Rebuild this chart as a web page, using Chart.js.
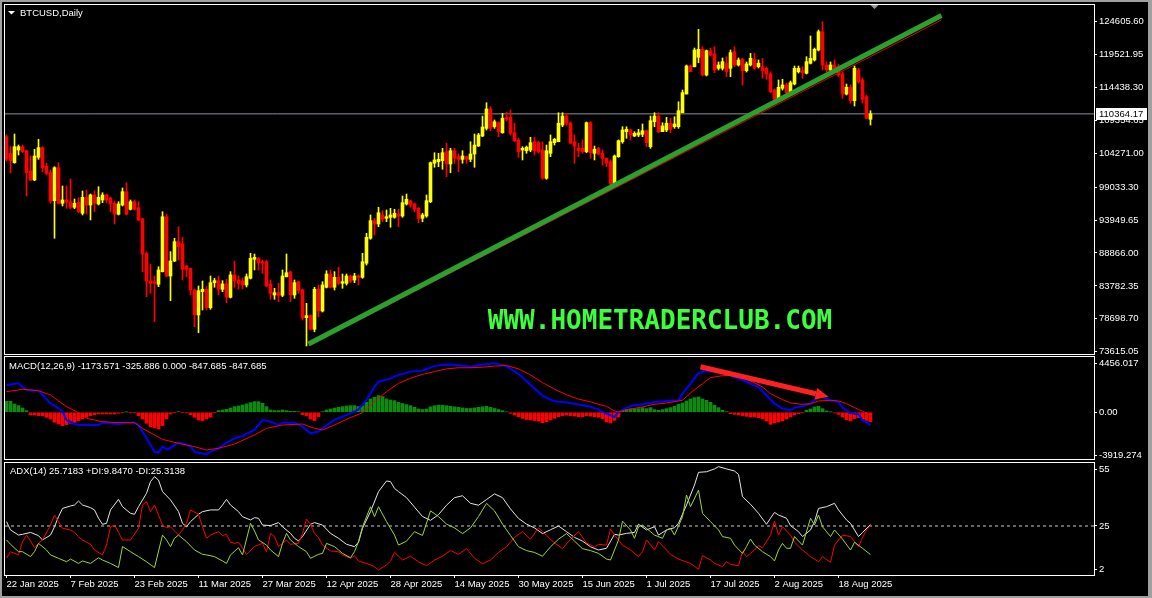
<!DOCTYPE html>
<html>
<head>
<meta charset="utf-8">
<title>BTCUSD Daily</title>
<script src="https://cdn.jsdelivr.net/npm/chart.js@4.4.1/dist/chart.umd.min.js"></script>
<style>
  html, body { margin: 0; padding: 0; background: #000; }
  #wrap { position: relative; width: 1152px; height: 598px; background: #000; overflow: hidden; }
  #edge { position: absolute; left: 0; top: 0; width: 1152px; height: 598px; box-sizing: border-box;
          border-left: 2px solid #a0a0a0; border-top: 2px solid #a0a0a0;
          border-right: 4px solid #a0a0a0; border-bottom: 2px solid #a0a0a0; pointer-events: none; }
  canvas { position: absolute; left: 0; }
</style>
</head>
<body>
<div id="wrap">
  <canvas id="price" width="1152" height="360" style="top:0"></canvas>
  <canvas id="macd" width="1152" height="116" style="top:350px"></canvas>
  <canvas id="adx" width="1152" height="142" style="top:456px"></canvas>
  <div id="edge"></div>
</div>
<script>
// daily candles, 22 Jan 2025 .. 26 Aug 2025 (bar index 0..216)
const opens = [106840,104270,102820,104780,105290,104670,101540,100150,103650,105140,
  102310,101270,96950,102050,96550,97060,96790,95930,96700,95000,
  97470,96280,97830,96440,97060,97830,97360,96550,94850,96280,
  98340,95620,96790,95870,94120,88820,84540,84430,84030,85980,
  94470,85310,87630,90610,90260,86860,86500,83150,79290,82890,
  83260,80410,84280,84590,83260,84080,82020,85470,84690,84540,
  83920,84960,87890,88050,87520,87520,84080,82380,82730,82330,
  85200,85930,82380,84430,83150,78870,79180,77080,83260,79900,
  83570,85620,83570,85110,84180,84180,85310,84690,85310,85110,
  87280,91140,93860,93350,94740,94230,94380,94380,94890,94580,
  96440,96950,96440,95770,94230,94580,96790,102730,102970,103130,
  104520,102620,104670,103750,103340,103750,103340,104160,105400,106940,
  108130,111120,108380,109000,107450,109830,109830,107450,106330,104780,
  104670,104780,106060,105910,104780,100410,104270,105910,106060,108640,
  110030,108910,106060,105040,105040,104520,109000,104270,105040,104270,
  103500,102970,99530,103750,106060,107610,107870,106940,107100,107210,
  107760,105290,109150,110030,107610,107870,108910,108380,108380,110540,
  113430,117760,117650,119110,120340,116370,120080,119620,117410,117410,
  118180,117410,119970,117920,118800,117040,117920,118800,117650,117650,
  117410,116530,114050,112620,114320,114830,113640,114980,116880,117040,
  116630,118180,118690,120230,123060,117920,117140,117920,117650,116530,
  113430,114470,112400,117140,115600,113020,109530];
const highs = [107100,105290,107250,105550,105550,104780,103850,104890,106430,105290,
  102730,101690,102200,102820,99220,99220,100300,97210,97410,98450,
  98600,97980,98490,99110,98180,97980,97520,96900,96790,98910,
  99730,97060,97060,96790,94270,89020,87120,85310,86750,95250,
  94890,89070,91140,92930,91290,87010,86550,83300,83770,84540,
  83660,85310,84960,85310,84590,84800,85980,87630,85310,85000,
  85620,88820,88710,88170,87780,87780,84690,83410,84180,86240,
  88710,86080,84690,84540,83300,81090,79290,83570,83920,84430,
  86130,86240,85980,86660,85620,85620,85470,85730,85470,88820,
  91910,94740,94230,95930,95400,95510,95770,95620,95620,97670,
  97980,97060,96590,95900,95000,97830,102930,104360,104270,105040,
  105820,105040,105040,104160,104670,103850,106060,107250,107360,110030,
  112090,111470,109420,109150,110450,110650,110960,108910,106590,105290,
  105400,106740,106740,106170,106060,105550,107100,106590,110540,110540,
  110450,109150,107100,105820,106330,109110,109150,105400,105200,104780,
  103550,103240,104010,106330,108380,108380,108030,107610,107980,108800,
  107870,110030,110540,110540,109000,109830,109680,109930,112240,114050,
  117920,117920,120540,123430,120740,120230,120540,120740,118380,119000,
  119200,120230,120740,119000,118950,118380,119720,119720,118690,118950,
  117610,116830,114210,115600,115710,115130,115440,117760,117760,117650,
  119200,122400,120540,123320,124610,118380,118380,118690,118070,116830,
  114980,114830,117760,117450,115910,113280,110850];
const lows = [103080,101230,102730,104010,104360,97670,100040,100040,103340,101430,
  100920,96550,91140,96440,96130,95770,95660,95710,95090,94740,
  94890,93970,95250,96280,96640,96640,95250,93350,94740,96130,
  94740,95510,95510,93860,85980,82110,82640,78250,83660,85930,
  85200,81500,87520,87780,84690,85200,82380,77480,76550,80060,
  80060,80170,83570,82380,82890,81190,81910,83570,83260,83300,
  83610,84850,86240,86240,85730,83660,81710,81710,81340,82110,
  85160,81340,81870,82640,78510,74500,76970,76700,79020,79750,
  83460,83460,83150,83920,83410,83920,84280,84280,83920,84960,
  87010,90980,91650,92930,93700,93700,92840,94230,92930,94380,
  96280,95930,95250,93550,93700,94380,96640,102110,102200,101800,
  100660,101270,102730,101430,102730,102730,102970,102110,105320,106840,
  107870,107760,108130,106840,107360,109260,107100,106060,103650,103240,
  104270,104520,104010,104320,100250,100250,103750,105550,106060,108380,
  108640,105820,102730,103750,104270,104360,103500,103240,104010,102460,
  102200,99370,99370,103650,105820,106590,106330,106840,106840,106840,
  105290,105040,108380,107450,107610,107610,107450,108130,108130,110540,
  113430,116880,117610,118270,116220,116220,119310,116730,117140,117140,
  116110,116110,117650,117760,114830,116830,117760,117250,117450,115860,
  115710,113640,112510,112510,114050,113430,113540,114830,116680,115860,
  116530,118070,118530,120080,117140,116830,116830,117140,116060,112770,
  113280,112000,111580,115130,112000,109570,108640];
const closes = [103340,103130,105290,105290,104520,101270,100150,103850,105140,102050,
  101180,96900,102050,96550,97060,96750,95930,96550,95250,97470,
  96280,97830,96550,97470,97830,97060,96440,94890,96440,98340,
  94850,96790,95620,93970,88710,84540,84180,84180,86240,94470,
  85310,87630,90610,89840,86350,86350,83150,79290,83040,83260,
  80410,84280,84590,83260,84080,82020,85470,84590,84180,83920,
  85200,88050,88200,87370,87280,83770,82640,82730,82330,85310,
  85820,82380,84280,83040,78780,79180,77080,83260,79900,83920,
  85620,83570,85110,84180,84430,85310,84490,85310,85110,87520,
  91290,93860,93350,95090,94070,94470,94740,95000,94580,96640,
  97160,96280,95620,94230,94740,96950,102820,103240,103340,104360,
  102620,104670,103500,103340,103850,103340,104160,105550,107100,108330,
  111120,108130,109150,107610,109680,109530,107360,106220,104520,105040,
  105200,105910,104670,104520,100410,104670,106060,106430,108910,110030,
  108910,105820,105400,104670,104520,109000,104360,104890,104160,103500,
  102730,99530,103850,106220,107870,107980,107100,107360,107450,107760,
  105910,109310,110030,107610,108490,108910,107980,108800,110850,113640,
  117760,116880,120230,120340,116370,120130,119460,117140,117920,118430,
  116880,119820,117920,118690,117040,118070,118950,117410,118180,117040,
  116530,113790,112620,114470,114830,113640,115180,117410,117410,116730,
  118430,118950,120340,123060,117920,117140,117920,117410,116370,113430,
  114470,112400,117410,115340,112620,109680,110364.17];

// hand-drawn trend lines (bar index, price)
const trendIdx = [75.5, 233.75];
const trendVal = [74800, 125560];
const trend2Idx = [75.5, 233.75];
const trend2Val = [74500, 124870];

// MACD(12,26,9): main line, signal line (sampled bars), histogram (every bar)
const macdIdx = [0,3,5,8,9,11,13,14,15,17,18,23,24,28,30,32,33,34,35,36,37,38,39,40,41,42,43,44,46,47,48,50,51,53,55,57,59,62,64,66,68,69,72,74,76,78,79,82,84,86,88,90,92,93,96,98,
  101,104,107,110,113,116,119,122,125,128,131,134,137,140,143,146,
  148,150,152,153,155,157,159,162,165,168,169,171,173,175,178,180,183,185,188,190,192,194,196,197,199,201,203,204,206,208,209,211,213,214,216];
const macdVal = [2482,2634,2028,1967,1573,815,361,58,-700,-1064,-1155,-1155,-943,-1064,-943,-943,-1155,-1761,-2367,-2974,-3580,-3671,-3125,-3367,-3276,-2973,-2761,-2822,-3125,-3580,-3671,-3822,-3580,-3276,-2761,-2367,-2155,-1609,-700,-852,-1155,-943,-943,-1306,-1912,-1761,-1458,-700,-397,-94,270,1118,2330,2785,3088,3391,
  3700,3800,4200,4350,4300,4150,4350,4450,4200,3500,2500,1500,1000,900,700,500,
  242,-121,-424,30,424,636,727,939,1030,1091,1697,2606,3575,3757,3666,3515,3060,2757,2303,1545,788,333,182,424,545,788,1394,1394,1091,939,424,-61,-182,-727,-1174];
const signalIdx = [0,4,8,11,15,18,20,24,28,32,34,37,39,43,47,50,53,57,62,65,69,74,77,79,82,85,89,92,95,98,
  101,104,107,110,113,116,119,122,125,128,131,134,137,140,143,146,
  148,150,152,153,155,159,162,165,169,171,174,176,179,181,184,186,189,191,194,196,199,201,203,206,208,210,212,215,216];
const signalVal = [1876,2088,1967,1573,512,-33,-548,-852,-943,-943,-1458,-2064,-2458,-2822,-3125,-3428,-3276,-2882,-2064,-1458,-1155,-1064,-1458,-1609,-1155,-640,-33,967,1876,2634,
  3100,3450,3700,3950,4050,4050,4100,4200,4250,3950,3400,2700,2100,1600,1200,950,
  727,545,121,30,242,485,727,848,1091,1757,2606,3151,3333,3363,3151,2848,2303,1697,1151,848,727,788,1030,1091,1030,788,424,-61,-326];
const histVal = [1000,1000,758,606,394,152,-242,-242,-303,-303,
  -455,-606,-909,-1061,-1212,-1121,-1000,-909,-758,-606,
  -455,-303,-212,-152,-152,-152,-152,-152,-91,-30,
  30,-30,-30,-303,-606,-1000,-1303,-1424,-1515,-1212,
  -606,-152,-30,61,-30,-30,-212,-455,-697,-758,
  -606,-455,-30,152,212,273,394,515,576,667,
  758,879,970,970,818,515,212,152,152,212,
  152,91,91,61,-212,-303,-606,-758,-394,61,
  212,303,394,455,515,576,606,606,515,606,
  909,1212,1364,1515,1424,1212,1121,1061,909,800,
  700,600,450,300,250,300,500,600,650,650,
  600,550,500,450,400,350,350,400,450,500,
  550,450,350,250,150,50,-100,-250,-400,-550,
  -650,-700,-750,-800,-950,-850,-700,-550,-400,-300,
  -250,-300,-350,-400,-400,-300,-350,-400,-450,-576,
  -880,-970,-727,-424,182,242,303,333,333,424,
  333,424,242,182,242,333,424,545,727,848,
  1030,1212,1333,1394,1212,1091,909,636,424,182,
  61,-121,-182,-242,-303,-364,-424,-424,-485,-606,
  -788,-1091,-970,-879,-788,-606,-424,-242,-121,-30,
  182,303,485,545,333,121,30,-61,-182,-424,
  -667,-788,-576,-485,-606,-727,-848];
const arrowIdx = [173.5, 205.5];
const arrowVal = [4147, 1419];

// ADX(14): main, +DI, -DI (sampled bars)
const adxIdx = [0,1,3,4,6,8,9,11,12,13,14,16,17,18,19,21,22,23,24,25,26,28,29,31,32,33,35,36,37,38,39,41,43,44,45,46,48,49,51,53,54,55,56,58,59,61,62,63,64,66,68,69,71,72,73,74,76,77,79,81,83,85,87,88,89,91,93,95,96,97,98,
  100,102,104,106,108,110,112,114,116,118,120,122,124,126,128,130,132,134,136,138,140,142,144,146,
  148,150,152,153,155,157,158,160,162,163,165,167,168,170,172,173,175,177,178,180,182,183,184,186,188,190,191,192,193,195,196,198,199,201,202,203,205,207,208,210,211,213,214,216];
const adxVal = [27.3,22.9,20.2,20.6,21.6,19.9,17.6,20.2,24.6,29.9,34.3,35.6,36.1,38.2,36.1,34.7,33.5,29.1,25.9,26.4,33.5,39.1,35.2,31.7,31.2,35.2,42.3,48.5,51.1,49.3,43.2,38.8,32.6,26.4,24.6,27.3,31.2,32.6,33.5,33.5,36.1,39.1,36.1,32.6,29.9,28.2,29.4,29.1,25.5,25.2,26.8,24.6,21.1,18.5,17.1,19.4,25.9,26.8,25.5,21.1,18.5,15.3,14.1,16.4,23.8,32.6,43.2,48.8,48.5,44.9,43.2,
  40,35,30,28,31,36,40,41,37,36,39,42,40,34,29,26,24,21,23,25,22,19,17,14,
  12.3,13.2,20.6,20.2,21.1,21.6,25.9,22.9,24.6,20.2,22.9,24.1,26.4,36.1,46.7,53.4,53.7,55.2,56.4,55.2,54.1,52.3,40.5,36.5,31.7,25.9,29.1,32.2,30.8,29.1,25.2,22,19.4,22.9,27.3,34.3,35.2,37,33.5,28.2,26.4,19.4,21.6,25.7];
const pdiIdx = [0,1,3,4,6,7,8,10,11,13,15,16,18,19,21,23,24,26,28,29,31,33,35,37,39,40,41,42,43,45,47,49,50,52,54,55,56,58,59,61,62,63,65,66,68,69,70,71,73,75,76,78,79,80,82,83,84,86,87,88,89,91,92,93,95,97,98,
  100,102,104,106,108,110,112,114,116,118,120,122,124,126,128,130,132,134,136,138,140,142,144,146,
  148,150,151,153,154,156,157,158,159,161,162,164,165,166,167,169,170,171,173,174,176,178,179,181,182,184,185,186,187,189,191,192,193,194,195,196,197,198,199,201,202,203,204,206,207,209,211,212,214,216];
const pdiVal = [17.6,15.3,11.4,11.4,8.8,11.4,15.8,12.3,9.7,7.9,6.1,7.5,5.2,6.5,5.2,8.2,7,5.2,3,14.1,11.4,8.8,6.1,3,20.2,17.6,14.1,18.5,20.2,16.7,12.3,10,9.7,8.8,6.5,5.2,9.7,13.5,9.7,26.4,22.4,17.6,14.9,12.3,8.8,15.8,21.1,17.6,14.1,11.4,7.9,10,10.5,15.8,14.1,12.3,10.5,8.2,11.4,16.7,24.6,35.2,29.9,35.2,27.3,20.2,14.9,
  17,22,20,33,30,26,24,21,24,30,37,33,26,20,14,12,11,9,14,18,21,17,13,12,
  10.5,7.5,7,17.6,27.6,22.9,18.5,24.6,25.5,22,20.2,18.5,22.9,23.8,20.2,29.9,41.4,35.2,44,31.7,27.3,22.9,19.4,18.5,14.9,10.5,14.1,18.1,14.9,11.4,8.8,6.5,12.3,15.8,13.2,13.2,19.4,17.1,14.9,29.1,25.5,30.8,24.6,19.4,22.9,18.1,12.3,16.4,13.2,9.85];
const mdiIdx = [0,1,3,4,5,6,7,8,9,11,12,13,14,16,17,18,19,21,22,24,25,26,27,28,29,31,33,34,35,36,37,38,39,40,41,43,44,45,46,48,49,50,51,53,54,55,56,57,58,59,60,62,64,65,66,67,68,70,71,73,74,75,76,77,78,79,81,83,84,86,87,88,90,92,93,95,96,97,
  99,101,103,105,107,109,111,113,115,117,119,121,123,125,127,129,131,133,135,137,139,141,143,145,147,
  148,150,151,152,154,156,158,159,160,162,163,165,166,168,171,173,174,176,177,179,180,181,183,184,185,186,187,188,189,191,192,193,194,196,197,199,201,203,204,206,207,209,211,213,214,215,216];
const mdiVal = [7.9,11.4,9.7,16.7,20.2,17.1,13.5,15.8,17.6,25.5,30.8,27.3,23.8,22.9,21.6,19.4,17.6,15.3,12.3,9.7,14.9,24.6,25.5,21.6,17.6,17.6,23.8,36.1,37.9,32.6,36.1,30.8,25.5,24.1,24.6,20.2,22.9,26.4,33.5,31.2,24.6,18.5,20.2,22,19.9,20.6,16.4,15.8,16.4,13.2,10,14.1,15.8,11.4,21.1,19.4,14.1,17.6,15.3,15.8,21.1,28.7,25.9,21.1,18.8,14.9,11.8,11.4,9.7,7.9,9.3,6.5,5.2,3.5,1.7,4.4,6.5,11.1,
  7,9,6,4,7,9,12,10,13,8,5,7,11,14,19,22,18,24,20,16,13,18,22,16,14,
  15.3,14.9,23.4,20.2,14.9,12.3,8.8,11.4,17.6,12.3,16.7,12.3,10,7.5,5.2,2.1,9.3,7,5.2,3.5,6.1,4.7,4,11.4,8.8,10.5,12.3,14.6,13.5,20.2,27.6,20.2,24.6,20.2,16.4,12.3,8.8,6.1,8.8,5.8,14.9,20.2,19.4,14.1,18.8,22.9,25.3];

// axes
const priceTicks = [124605.60,119521.95,114438.30,109354.65,104271.00,99033.30,93949.65,88866.00,83782.35,78698.70,73615.05];
const priceTickLabels = priceTicks.map(v => v.toFixed(2));
const macdTicks = [4456.017, 0, -3919.274];
const macdTickLabels = ['4456.017', '0.00', '-3919.274'];
const adxTicks = [55, 25, 2];
const adxTickLabels = ['55', '25', '2'];
const adxLevel = 25;
const dateTickIdx = [0,16,32,48,64,80,96,112,128,144,160,176,192,208];
const dateLabels = ['22 Jan 2025','7 Feb 2025','23 Feb 2025','11 Mar 2025','27 Mar 2025','12 Apr 2025','28 Apr 2025',
  '14 May 2025','30 May 2025','15 Jun 2025','1 Jul 2025','17 Jul 2025','2 Aug 2025','18 Aug 2025'];
const symbolTitle = 'BTCUSD,Daily';
const macdTitle = 'MACD(12,26,9) -1173.571 -325.886 0.000 -847.685 -847.685';
const adxTitle = 'ADX(14) 25.7183 +DI:9.8470 -DI:25.3138';
const watermark = 'WWW.HOMETRADERCLUB.COM';

const X_MIN = -0.375, X_MAX = 271.875;
const FONT = "'Liberation Sans', Arial, sans-serif";
const FSIZE = 9.5;
const BULL = '#ffff00', BEAR = '#ff0000';

const pts = (xs, ys) => xs.map((x, i) => ({ x, y: ys[i] }));

function yAxis(min, max, ticks, labels) {
  return {
    position: 'right', min, max, beginAtZero: false,
    afterFit: s => { s.width = 58; s.paddingTop = 0; s.paddingBottom = 0; },
    afterBuildTicks: s => { s.ticks = ticks.map(v => ({ value: v })); },
    border: { display: true, color: '#ffffff' },
    grid: { drawOnChartArea: false, drawTicks: true, tickLength: 3, color: '#ffffff' },
    ticks: { color: '#ffffff', font: { family: FONT, size: FSIZE }, padding: 2, autoSkip: false,
             callback: (v, i) => labels[i] }
  };
}
const hiddenX = { type: 'linear', min: X_MIN, max: X_MAX, offset: false, display: false };

const framePlugin = {
  id: 'frame',
  afterDraw(chart) {
    const { ctx, chartArea: a } = chart;
    ctx.save();
    ctx.strokeStyle = '#ffffff';
    ctx.lineWidth = 1;
    ctx.strokeRect(a.left - 0.5, a.top - 0.5, a.right - a.left + 1, a.bottom - a.top + 1);
    ctx.restore();
  }
};

function baseOptions(padding, scales) {
  return {
    responsive: false, animation: false, devicePixelRatio: 1, events: [],
    layout: { padding },
    plugins: { legend: { display: false }, tooltip: { enabled: false } },
    scales
  };
}

// ---------- price panel ----------
const candleColors = closes.map((c, i) => c >= opens[i] ? BULL : BEAR);
const lastClose = closes[closes.length - 1];

new Chart(document.getElementById('price'), {
  type: 'bar',
  data: {
    datasets: [
      { type: 'line', data: pts(trendIdx, trendVal), borderColor: '#2ca02c', borderWidth: 5, pointRadius: 0, order: 0 },
      { type: 'line', data: pts(trend2Idx, trend2Val), borderColor: '#e00000', borderWidth: 1, pointRadius: 0, order: 0 },
      { data: opens.map((o, i) => ({ x: i, y: [o, closes[i]] })), backgroundColor: candleColors,
        barThickness: 3, minBarLength: 1, grouped: false, borderWidth: 0, order: 1 },
      { data: lows.map((l, i) => ({ x: i, y: [l, highs[i]] })), backgroundColor: candleColors,
        barThickness: 1, grouped: false, borderWidth: 0, order: 2 },
      { type: 'line', data: [{ x: X_MIN, y: lastClose }, { x: X_MAX, y: lastClose }],
        borderColor: '#8a8f99', borderWidth: 1, pointRadius: 0, order: 3 }
    ]
  },
  options: baseOptions({ left: 5, top: 5, right: 0, bottom: 6 }, {
    x: hiddenX,
    y: yAxis(73259, 127186, priceTicks, priceTickLabels)
  }),
  plugins: [framePlugin, {
    id: 'priceDecor',
    beforeDatasetsDraw(chart) {
      const ctx = chart.ctx;
      ctx.save();
      ctx.font = "bold 26px 'DejaVu Sans Mono', 'Liberation Mono', monospace";
      ctx.fillStyle = '#3cff3c';
      ctx.textAlign = 'center';
      ctx.textBaseline = 'middle';
      ctx.fillText(watermark, 660, 322);
      ctx.restore();
    },
    afterDraw(chart) {
      const { ctx, scales: { x, y }, chartArea: a } = chart;
      ctx.save();
      ctx.font = FSIZE + 'px ' + FONT;
      ctx.textBaseline = 'middle';
      ctx.fillStyle = '#ffffff';
      ctx.beginPath();
      ctx.moveTo(a.left + 3, a.top + 6); ctx.lineTo(a.left + 10, a.top + 6); ctx.lineTo(a.left + 6.5, a.top + 9.5);
      ctx.closePath(); ctx.fill();
      ctx.fillText(symbolTitle, a.left + 15, a.top + 8);
      // shift marker
      const sx = x.getPixelForValue(closes.length);
      ctx.fillStyle = '#9a9a9a';
      ctx.beginPath();
      ctx.moveTo(sx - 4, a.top); ctx.lineTo(sx + 4, a.top); ctx.lineTo(sx, a.top + 4);
      ctx.closePath(); ctx.fill();
      // current price label
      const py = Math.round(y.getPixelForValue(lastClose));
      ctx.fillStyle = '#ffffff';
      ctx.fillRect(a.right + 2, py - 6, 51, 12);
      ctx.fillStyle = '#000000';
      ctx.fillText(lastClose.toFixed(2), a.right + 5, py + 0.5);
      ctx.restore();
    }
  }]
});

// ---------- MACD panel ----------
new Chart(document.getElementById('macd'), {
  type: 'bar',
  data: {
    datasets: [
      { type: 'line', data: pts(signalIdx, signalVal), borderColor: '#ff0000', borderWidth: 1, pointRadius: 0, order: 0 },
      { type: 'line', data: pts(macdIdx, macdVal), borderColor: '#0000ff', borderWidth: 2, pointRadius: 0, order: 1 },
      { data: histVal.map((v, i) => ({ x: i, y: v })), backgroundColor: histVal.map(v => v >= 0 ? '#0c8c0c' : '#ff0000'),
        barThickness: 3, grouped: false, borderWidth: 0, order: 2 }
    ]
  },
  options: baseOptions({ left: 5, top: 7, right: 0, bottom: 7 }, {
    x: hiddenX,
    y: yAxis(-4247, 5029, macdTicks, macdTickLabels)
  }),
  plugins: [framePlugin, {
    id: 'macdDecor',
    afterDatasetsDraw(chart) {
      const { ctx, scales: { x, y } } = chart;
      const x0 = x.getPixelForValue(arrowIdx[0]), y0 = y.getPixelForValue(arrowVal[0]);
      const x1 = x.getPixelForValue(arrowIdx[1]), y1 = y.getPixelForValue(arrowVal[1]);
      const ang = Math.atan2(y1 - y0, x1 - x0);
      const head = 13, half = 6;
      const bx = x1 - head * Math.cos(ang), by = y1 - head * Math.sin(ang);
      ctx.save();
      ctx.strokeStyle = ctx.fillStyle = '#ff2020';
      ctx.lineWidth = 5;
      ctx.beginPath(); ctx.moveTo(x0, y0); ctx.lineTo(bx, by); ctx.stroke();
      ctx.beginPath();
      ctx.moveTo(x1, y1);
      ctx.lineTo(bx + half * Math.sin(ang), by - half * Math.cos(ang));
      ctx.lineTo(bx - half * Math.sin(ang), by + half * Math.cos(ang));
      ctx.closePath(); ctx.fill();
      ctx.restore();
    },
    afterDraw(chart) {
      const { ctx, chartArea: a } = chart;
      ctx.save();
      ctx.font = FSIZE + 'px ' + FONT;
      ctx.textBaseline = 'middle';
      ctx.fillStyle = '#ffffff';
      ctx.fillText(macdTitle, a.left + 4, a.top + 9);
      ctx.restore();
    }
  }]
});

// ---------- ADX panel ----------
new Chart(document.getElementById('adx'), {
  type: 'line',
  data: {
    datasets: [
      { data: pts(pdiIdx, pdiVal), borderColor: '#9ad832', borderWidth: 1, pointRadius: 0, order: 0 },
      { data: pts(mdiIdx, mdiVal), borderColor: '#ff0000', borderWidth: 1, pointRadius: 0, order: 1 },
      { data: pts(adxIdx, adxVal), borderColor: '#e6e6e6', borderWidth: 1, pointRadius: 0, order: 2 },
      { data: [{ x: X_MIN, y: adxLevel }, { x: X_MAX, y: adxLevel }], borderColor: '#c8c8c8', borderWidth: 1,
        borderDash: [3, 3], pointRadius: 0, order: 3 }
    ]
  },
  options: baseOptions({ left: 5, top: 7, right: 0, bottom: 0 }, {
    x: {
      type: 'linear', min: X_MIN, max: X_MAX, offset: false,
      afterFit: s => { s.height = 23; s.paddingLeft = 0; s.paddingRight = 0; },
      afterBuildTicks: s => { s.ticks = dateTickIdx.map(v => ({ value: v })); },
      border: { display: true, color: '#ffffff' },
      grid: { drawOnChartArea: false, drawTicks: true, tickLength: 3, color: '#ffffff' },
      ticks: { color: '#ffffff', font: { family: FONT, size: FSIZE }, align: 'start', maxRotation: 0, minRotation: 0,
               autoSkip: false, padding: 1, callback: (v, i) => dateLabels[i] }
    },
    y: yAxis(-0.93, 58.33, adxTicks, adxTickLabels)
  }),
  plugins: [framePlugin, {
    id: 'adxDecor',
    afterDraw(chart) {
      const { ctx, chartArea: a } = chart;
      ctx.save();
      ctx.font = FSIZE + 'px ' + FONT;
      ctx.textBaseline = 'middle';
      ctx.fillStyle = '#ffffff';
      ctx.fillText(adxTitle, a.left + 5, a.top + 8);
      ctx.restore();
    }
  }]
});
</script>
</body>
</html>
